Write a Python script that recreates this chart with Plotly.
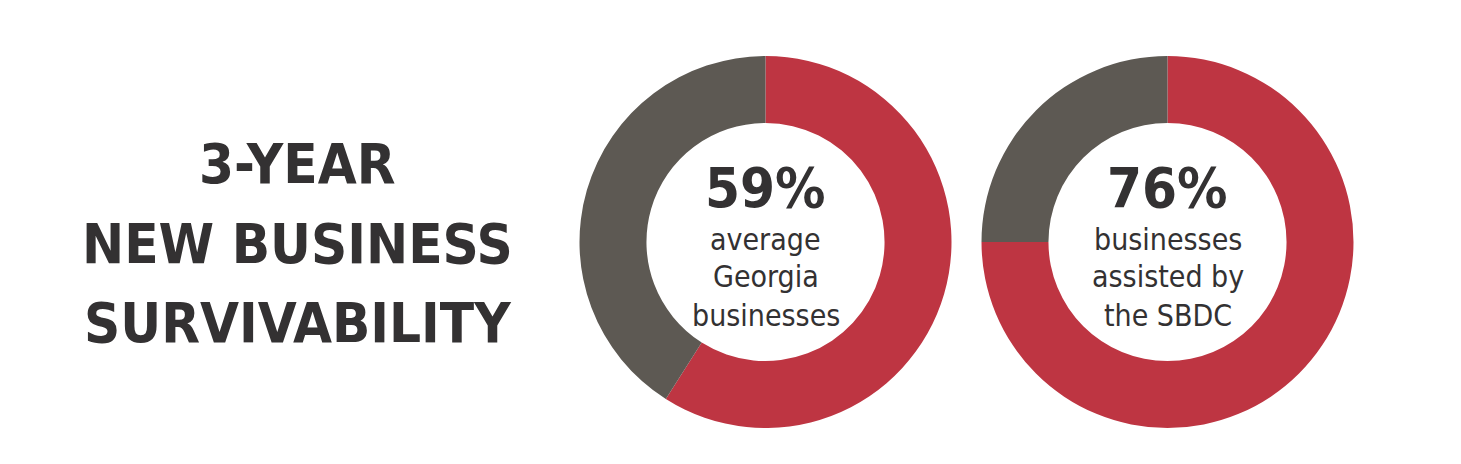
import plotly.graph_objects as go

# Data
slice_labels = ["Survived", "Did not survive"]
georgia_values = [59, 41]
sbdc_values = [75, 25]
georgia_pct = "59%"
sbdc_pct = "76%"
georgia_caption = ["average", "Georgia", "businesses"]
sbdc_caption = ["businesses", "assisted by", "the SBDC"]
title_lines = ["3-YEAR", "NEW BUSINESS", "SURVIVABILITY"]

RED = "#BE3542"
GRAY = "#5D5953"
TEXT = "#333132"
FONT = "Liberation Sans Narrow, DejaVu Sans Condensed, Roboto, sans-serif"

OFF = 8  # default page body margin
W, H = 1461 - 2 * OFF, 464 - 2 * OFF

def xd(px):
    return (px - OFF) / W

def yd(py):
    return (H - (py - OFF)) / H

fig = go.Figure()

for vals, cx in [(georgia_values, 765.5), (sbdc_values, 1167.5)]:
    fig.add_trace(go.Pie(
        labels=slice_labels, values=vals, hole=0.64, sort=False,
        direction="clockwise", rotation=0,
        marker=dict(colors=[RED, GRAY], line=dict(width=0)),
        textinfo="none", hoverinfo="label+percent", showlegend=False,
        domain=dict(x=[xd(cx - 186), xd(cx + 186)], y=[yd(428), yd(56)]),
    ))

annotations = []
# Title
for line, cy in zip(title_lines, [163, 243, 322]):
    annotations.append(dict(
        x=xd(297), y=yd(cy), xref="paper", yref="paper", text="<b>%s</b>" % line,
        showarrow=False, xanchor="center", yanchor="middle",
        font=dict(family=FONT, size=56, color=TEXT)))

for pct, caption, cx in [(georgia_pct, georgia_caption, 765.5), (sbdc_pct, sbdc_caption, 1167.5)]:
    annotations.append(dict(
        x=xd(cx), y=yd(187), xref="paper", yref="paper", text="<b>%s</b>" % pct,
        showarrow=False, xanchor="center", yanchor="middle",
        font=dict(family=FONT, size=56, color=TEXT)))
    for line, cy in zip(caption, [239, 276, 315]):
        annotations.append(dict(
            x=xd(cx), y=yd(cy), xref="paper", yref="paper", text=line,
            showarrow=False, xanchor="center", yanchor="middle",
            font=dict(family=FONT, size=30, color=TEXT)))

fig.update_layout(
    width=W, height=H,
    margin=dict(l=0, r=0, t=0, b=0),
    paper_bgcolor="white", plot_bgcolor="white",
    annotations=annotations,
)

fig.write_html("out.html")
